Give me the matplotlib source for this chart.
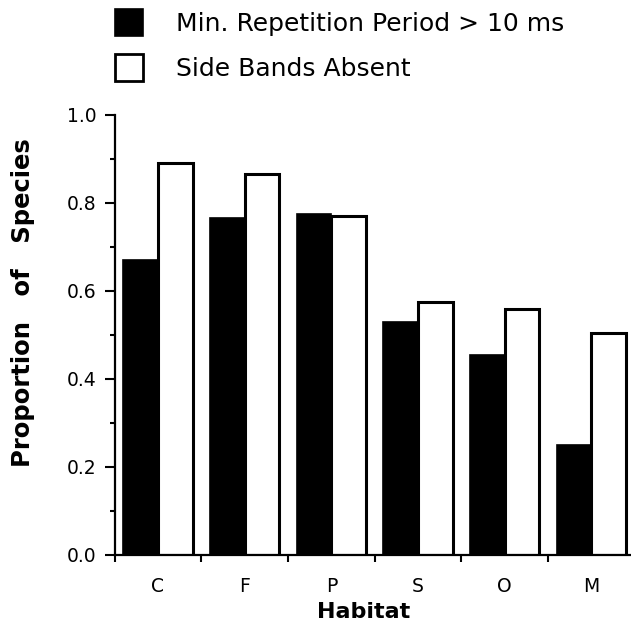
import numpy as np
import matplotlib
matplotlib.use("Agg")
import matplotlib.pyplot as plt
from matplotlib.patches import Patch
from matplotlib.ticker import MultipleLocator, FixedLocator

# data
habitats    = ["C", "F", "P", "S", "O", "M"]
min_rep     = [0.67, 0.765, 0.775, 0.53, 0.455, 0.25]
side_absent = [0.89, 0.865, 0.77, 0.575, 0.56, 0.505]
lab_rep     = "Min. Repetition Period > 10 ms"
lab_side    = "Side Bands Absent"

plt.rcParams["font.family"] = ["DejaVu Sans"]

W, H = 631, 629
fig = plt.figure(figsize=(W/100, H/100), dpi=100)
ax = fig.add_axes([114.6/W, 74/H, 1 - 114.6/W, 440/H])

x = np.arange(len(habitats))
bw = 0.4
ax.bar(x - bw/2, min_rep, bw, color="black", edgecolor="black", lw=1.2)
ax.bar(x + bw/2, side_absent, bw, color="white", edgecolor="black", lw=2.2)

ax.set_xlim(-0.5, -0.5 + (W - 114.6)/86.7)
ax.set_ylim(0, 1.0)

for s in ["top", "right"]:
    ax.spines[s].set_visible(False)
for s in ["left", "bottom"]:
    ax.spines[s].set_linewidth(1.6)

# y ticks
ax.yaxis.set_major_locator(MultipleLocator(0.2))
ax.yaxis.set_minor_locator(MultipleLocator(0.1))
ax.set_yticklabels([f"{v:.1f}" for v in ax.get_yticks()])
ax.tick_params(axis="y", which="major", length=7.5, width=1.5, pad=5.5, labelsize=13.5)
ax.tick_params(axis="y", which="minor", length=3.8, width=1.5)

# x ticks: labels at centres, short marks at group boundaries
ax.set_xticks(x)
ax.set_xticklabels(habitats)
ax.xaxis.set_minor_locator(FixedLocator(np.arange(-0.5, len(habitats), 1.0)))
ax.tick_params(axis="x", which="major", length=0, pad=16, labelsize=13.5)
ax.tick_params(axis="x", which="minor", length=5, width=1.5)

ax.set_xlabel("Habitat", fontsize=16, fontweight="bold")
ax.xaxis.set_label_coords((364 - 114.6)/(W - 114.6), (555 - 602)/440)
ax.set_ylabel("Proportion   of   Species", fontsize=17.5, fontweight="bold")
ax.yaxis.set_label_coords((35 - 114.6)/(W - 114.6), (555 - 303)/440)

handles = [Patch(facecolor="black", edgecolor="black", lw=1.2),
           Patch(facecolor="white", edgecolor="black", lw=2.0)]
fig.legend(handles, [lab_rep, lab_side], loc="upper left",
           bbox_to_anchor=(115/W, 1 - 8.5/H), frameon=False, fontsize=18,
           handlelength=1.1, handleheight=1.3, handletextpad=1.35,
           labelspacing=0.72, borderpad=0, borderaxespad=0)

fig.savefig("out.png", dpi=100)
